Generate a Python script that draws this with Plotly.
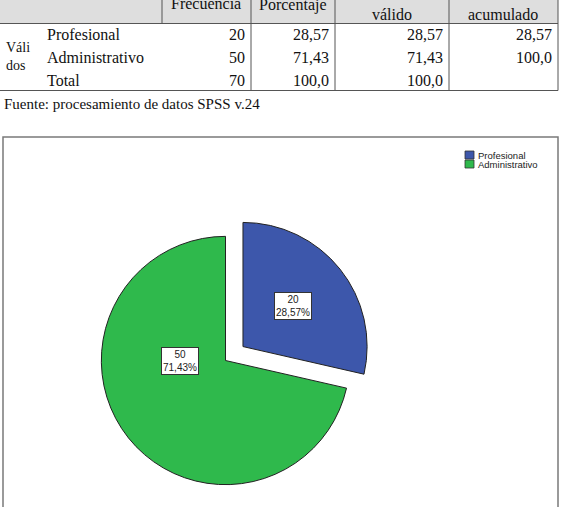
import math
import plotly.graph_objects as go

# ---------------- data ----------------
categories = ["Profesional", "Administrativo"]
frecuencia = [20, 50]
total_frec = 70
porcentaje = [28.57, 71.43]
pct_valido = [28.57, 71.43]
pct_acum = [28.57, 100.0]
total_pct = 100.0
total_valido = 100.0
header_labels = ["Frecuencia", "Porcentaje", "válido", "acumulado"]
group_label = "Váli<br>dos"
total_label = "Total"
source_note = "Fuente: procesamiento de datos SPSS v.24"
slice_colors = ["#3D57AB", "#2FB94C"]

# ---------------- helpers ----------------
W, H = 565, 507


def fx(x):
    return x / W


def fy(y):
    return 1 - y / H


def fmt(v):
    s = f"{v:.1f}" if v >= 100 else f"{v:.2f}"
    return s.replace(".", ",")


SERIF = "Liberation Serif"
SANS = "Liberation Sans"

shapes = []
annotations = []

# ---------------- table ----------------
col_right = [251, 335, 449, 558]
header_center = [206, 293, 392, 503]
header_y = [3, 5, 14, 14]
row_y = [34, 57, 80]
header_bottom = 23.5
table_bottom = 90.5

shapes.append(dict(type="rect", xref="paper", yref="paper",
                   x0=fx(0), x1=fx(558), y0=fy(-5), y1=fy(header_bottom),
                   fillcolor="#dedede", line=dict(width=0), layer="below"))
for y in (header_bottom, table_bottom):
    shapes.append(dict(type="line", xref="paper", yref="paper",
                       x0=fx(0), x1=fx(558), y0=fy(y), y1=fy(y),
                       line=dict(color="#555", width=1)))
shapes.append(dict(type="line", xref="paper", yref="paper",
                   x0=fx(162), x1=fx(162), y0=fy(-5), y1=fy(header_bottom),
                   line=dict(color="#555", width=1)))
for x in col_right:
    shapes.append(dict(type="line", xref="paper", yref="paper",
                       x0=fx(x), x1=fx(x), y0=fy(-5), y1=fy(table_bottom),
                       line=dict(color="#555", width=1)))

for txt, cx_, cy_ in zip(header_labels, header_center, header_y):
    annotations.append(dict(text=txt, x=fx(cx_), y=fy(cy_), xref="paper", yref="paper",
                            showarrow=False, xanchor="center", yanchor="middle",
                            font=dict(family=SERIF, size=16, color="#111")))

rows = [
    [categories[0], str(frecuencia[0]), fmt(porcentaje[0]), fmt(pct_valido[0]), fmt(pct_acum[0])],
    [categories[1], str(frecuencia[1]), fmt(porcentaje[1]), fmt(pct_valido[1]), fmt(pct_acum[1])],
    [total_label, str(total_frec), fmt(total_pct), fmt(total_valido), ""],
]
for r, y in zip(rows, row_y):
    annotations.append(dict(text=r[0], x=fx(45), y=fy(y), xref="paper", yref="paper",
                            showarrow=False, xanchor="left", yanchor="middle",
                            font=dict(family=SERIF, size=16, color="#111")))
    for val, xr in zip(r[1:], col_right):
        if val:
            annotations.append(dict(text=val, x=fx(xr - 4), y=fy(y), xref="paper", yref="paper",
                                    showarrow=False, xanchor="right", yanchor="middle",
                                    font=dict(family=SERIF, size=16, color="#111")))
annotations.append(dict(text=group_label, x=fx(4), y=fy(56), xref="paper", yref="paper",
                        showarrow=False, xanchor="left", yanchor="middle", align="left",
                        font=dict(family=SERIF, size=14, color="#111")))
annotations.append(dict(text=source_note, x=fx(2), y=fy(104), xref="paper", yref="paper",
                        showarrow=False, xanchor="left", yanchor="middle",
                        font=dict(family=SERIF, size=15, color="#111")))

# ---------------- chart box ----------------
shapes.append(dict(type="rect", xref="paper", yref="paper",
                   x0=fx(3), x1=fx(558), y0=fy(137), y1=fy(530),
                   line=dict(color="#7a7a7a", width=1.5), fillcolor="rgba(0,0,0,0)"))

# ---------------- pie ----------------
pull = [0.18, 0]
dom_x = [79, 372]
dom_y_top = 214
fig = go.Figure()
fig.add_trace(go.Pie(
    labels=categories, values=frecuencia, sort=False, direction="clockwise", rotation=0,
    pull=pull, marker=dict(colors=slice_colors, line=dict(color="#222", width=1)),
    textinfo="none", hoverinfo="label+value+percent", showlegend=False,
    domain=dict(x=[fx(dom_x[0]), fx(dom_x[1])], y=[0, 1 - dom_y_top / H]),
))

# pie geometry (same rule as plotly: r = min(w, h) / (2 + 2*maxPull))
side = min(dom_x[1] - dom_x[0], H - dom_y_top)
R = side / (2 + 2 * max(pull))
cx, cy = (dom_x[0] + dom_x[1]) / 2, (dom_y_top + H) / 2

tot = sum(frecuencia)
label_style = [dict(angle=None, frac=0.52), dict(angle=270, frac=0.37)]
start = 0.0
for i, v in enumerate(frecuencia):
    span = 360.0 * v / tot
    mid = start + span / 2
    sc_x = cx + pull[i] * R * math.sin(math.radians(mid))
    sc_y = cy - pull[i] * R * math.cos(math.radians(mid))
    ang = label_style[i]["angle"] if label_style[i]["angle"] is not None else mid
    lx = sc_x + label_style[i]["frac"] * R * math.sin(math.radians(ang))
    ly = sc_y - label_style[i]["frac"] * R * math.cos(math.radians(ang))
    pct = 100.0 * v / tot
    annotations.append(dict(text=f"{v}<br>{pct:.2f}%".replace(".", ","),
                            x=fx(lx), y=fy(ly), xref="paper", yref="paper",
                            showarrow=False, xanchor="center", yanchor="middle",
                            bgcolor="white", bordercolor="#333", borderwidth=1, borderpad=1,
                            font=dict(family=SANS, size=10, color="#222")))
    start += span

# ---------------- legend (custom) ----------------
leg_x = 465
leg_y = [151, 160]
for name, col, y in zip(categories, slice_colors, leg_y):
    shapes.append(dict(type="rect", xref="paper", yref="paper",
                       x0=fx(leg_x), x1=fx(leg_x + 9), y0=fy(y), y1=fy(y + 8),
                       fillcolor=col, line=dict(color="#333", width=0.8)))
    annotations.append(dict(text=name, x=fx(leg_x + 11), y=fy(y + 4.5), xref="paper", yref="paper",
                            showarrow=False, xanchor="left", yanchor="middle",
                            font=dict(family=SANS, size=9.5, color="#222")))

fig.update_layout(
    width=W, height=H, margin=dict(l=0, r=0, t=0, b=0),
    paper_bgcolor="white", plot_bgcolor="white",
    shapes=shapes, annotations=annotations, showlegend=False,
)
fig.write_html("out.html")
